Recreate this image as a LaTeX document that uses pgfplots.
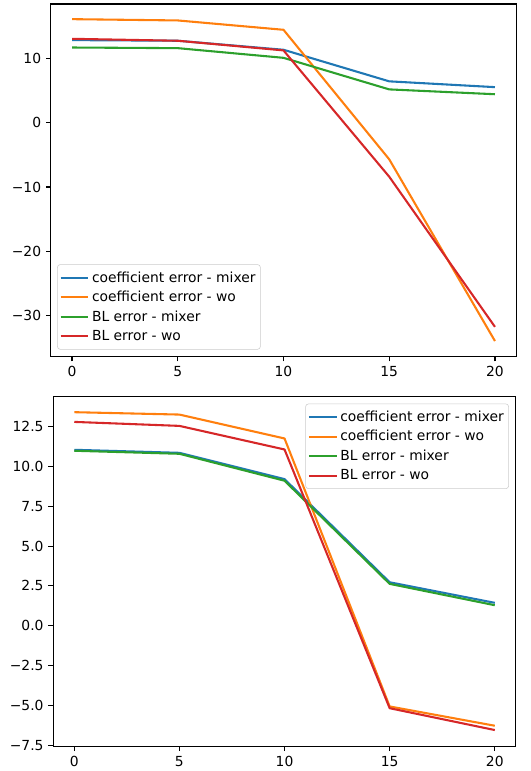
\documentclass[border=0pt]{standalone}
\usepackage{fontspec}
\setmainfont{DejaVu Sans}
\usepackage{pgfplots}
\pgfplotsset{compat=1.18}
\definecolor{tabblue}{HTML}{1F77B4}
\definecolor{taborange}{HTML}{FF7F0E}
\definecolor{tabgreen}{HTML}{2CA02C}
\definecolor{tabred}{HTML}{D62728}
\pgfplotsset{
  mpl/.style={
    scale only axis,
    anchor=south west,
    axis line style={line width=0.8pt},
    every tick/.style={black,line width=0.8pt},
    major tick length=3.5pt,
    tick align=outside,
    xtick pos=bottom, ytick pos=left,
    xmin=-1, xmax=21,
    xtick={0,5,10,15,20}, xticklabels={0,5,10,15,20},
    tick label style={font=\fontsize{10}{12}\selectfont},
    legend cell align=left,
    legend style={font=\fontsize{10}{12}\selectfont, draw=black!20, rounded corners=2pt,
      fill=white, fill opacity=0.8, text opacity=1, row sep=1pt, inner xsep=1.5pt, inner ysep=3pt},
    legend image code/.code={\draw[#1,line width=1.5pt] (0pt,0pt) -- (20pt,0pt);},
    every axis plot/.append style={line width=1.5pt, line join=round},
  }
}
\begin{document}
\begin{tikzpicture}
\begin{axis}[mpl, at={(36.7pt,-257.1pt)}, width=335.5pt, height=254.2pt,
  ymin=-36.3, ymax=18.4,
  ytick={-30,-20,-10,0,10}, yticklabels={−30,−20,−10,0,10},
  legend style={at={(0,0)}, anchor=south west, xshift=4.5pt, yshift=5pt}]
\addplot[tabblue] coordinates {(0,12.8) (5,12.7) (10,11.3) (15,6.4) (20,5.5)};
\addlegendentry{coefficient error - mixer}
\addplot[taborange] coordinates {(0,16.05) (5,15.85) (10,14.4) (15,-5.7) (20,-33.9)};
\addlegendentry{coefficient error - wo}
\addplot[tabgreen] coordinates {(0,11.65) (5,11.55) (10,10.05) (15,5.15) (20,4.4)};
\addlegendentry{BL error - mixer}
\addplot[tabred] coordinates {(0,13.0) (5,12.7) (10,11.2) (15,-8.4) (20,-31.7)};
\addlegendentry{BL error - wo}
\end{axis}
\begin{axis}[mpl, at={(38.4pt,-538.1pt)}, width=333.6pt, height=252pt,
  ymin=-7.55, ymax=14.37,
  ytick={-7.5,-5,-2.5,0,2.5,5,7.5,10,12.5},
  yticklabels={−7.5,−5.0,−2.5,0.0,2.5,5.0,7.5,10.0,12.5},
  legend style={at={(1,1)}, anchor=north east, xshift=-5pt, yshift=-5pt}]
\addplot[tabblue] coordinates {(0,11.04) (5,10.85) (10,9.2) (15,2.73) (20,1.44)};
\addlegendentry{coefficient error - mixer}
\addplot[taborange] coordinates {(0,13.4) (5,13.25) (10,11.75) (15,-5.06) (20,-6.27)};
\addlegendentry{coefficient error - wo}
\addplot[tabgreen] coordinates {(0,10.98) (5,10.79) (10,9.1) (15,2.63) (20,1.29)};
\addlegendentry{BL error - mixer}
\addplot[tabred] coordinates {(0,12.79) (5,12.54) (10,11.06) (15,-5.17) (20,-6.54)};
\addlegendentry{BL error - wo}
\end{axis}
\useasboundingbox (0pt,0pt) rectangle (382.3pt,-555.1pt);
\end{tikzpicture}
\end{document}
